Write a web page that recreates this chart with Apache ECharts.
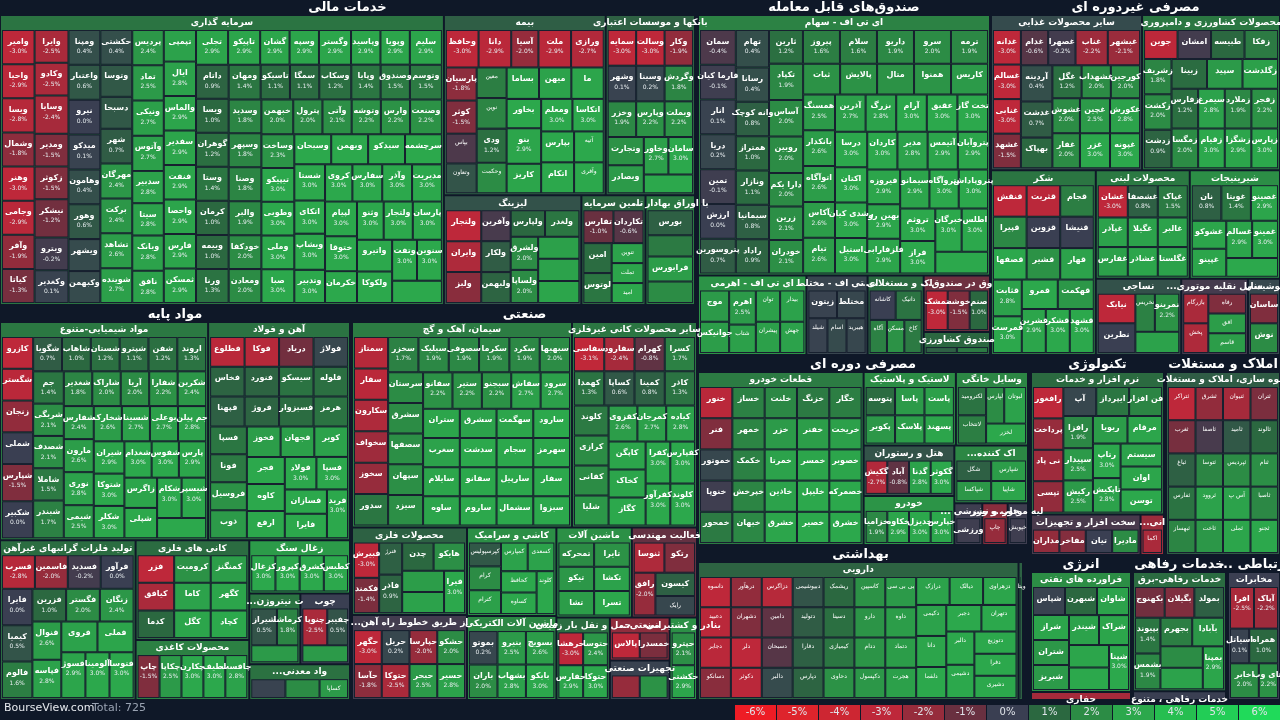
<!DOCTYPE html>
<html><head><meta charset="utf-8">
<script src="https://cdn.jsdelivr.net/npm/echarts@6/dist/echarts.min.js"></script>
<style>html,body{margin:0;padding:0;background:#0f1828;}#c{width:1280px;height:720px;}</style>
</head><body><div id="c"></div>
<script>
// ---------- DATA: [name, relative size, change %] ----------
const finInvest=[["وامیر",12,-3.0],["واحیا",12,-2.9],["ویسا",12,-2.8],["وشمال",12,-1.8],["وهنر",12,-3.0],["وجامی",12,-2.9],["وآفر",12,-1.9],["کیاتا",12,-1.3],["وایرا",12,-2.5],["وکادو",12,-2.5],["وسایا",14,-2.4],["ومدیر",12,-1.5],["زکوثر",12,-1.5],["نیشکر",14,-1.2],
["ویترو",12,-0.2],["وکغدیر",12,0.1],["ومپنا",12,0.4],["واعتبار",12,0.6],["نیرو",12,0.0],["میدکو",12,0.1],["وهامون",12,0.4],["وهور",12,0.6],["ویشهر",11,0.3],["وکبهمن",11,0.3],["حکشتی",12,0.4],["وتوسا",11,0.6],["دسبحا",11,0.6],["شهر",12,0.7],
["مهرگان",12,2.4],["برکت",12,2.4],["تشاهد",12,2.6],["شوینده",12,2.7],["پردیس",12,2.4],["تماد",12,2.5],["ونیکی",12,2.7],["وآتوس",12,2.7],["سدبیر",11,2.8],["سیتا",11,2.8],["وبانک",12,2.8],["نافق",11,2.8],["تپمپی",11,2.8],["ایال",12,2.8],["والماس",12,2.9],["سفدیر",12,2.9],["فنفت",12,2.9],["واحصا",12,2.9],["فارس",12,2.9],["ثمسکن",12,2.9],["تجلی",12,2.9],["تاپیکو",12,2.9],["گشان",11,2.9],["وسپه",11,2.9],["وگستر",12,2.9],["وپاسید",11,2.9],["وپویا",11,2.9],["سلیم",12,2.9],
["داتام",12,0.9],["ویسا۲",12,1.0],["گوهران",12,1.2],["وستا",12,1.4],["کرمان",12,1.0],["وبیمه",12,1.0],["ورنا",12,1.3],["ومهان",12,1.4],["تاسیکو",11,1.1],["سمگا",11,1.1],["وسکاب",12,1.2],["وپایا",11,1.4],["وصندوق",11,1.5],["وتوسم",12,1.5],["وسدید",12,1.8],["وسپهر",12,1.8],["وصنا",12,1.8],["والبر",12,1.9],["خودکفا",12,2.0],["ومعادن",12,2.0],["خبهمن",12,2.0],["پترول",11,2.0],["وآتی",11,2.1],["وتوشه",11,2.2],["وارس",11,2.2],["وصنعت",12,2.2],["وساخت",12,2.3],
["تیپیکو",12,3.0],["وطوبی",12,3.0],["وملی",12,3.0],["صبا",12,3.0],["وسبحان",12,3.0],["وبهمن",12,3.0],["سیدکو",12,3.0],["سرچشمه",12,3.0],["شستا",12,3.0],["اتکای",11,3.0],["وبشاپ",12,3.0],["وتدبیر",11,3.0],["کروی",11,3.0],["سفارس",12,3.0],["وآذر",12,3.0],["مدیریت",12,3.0],["لپیام",12,3.0],["ختوقا",12,3.0],["خکرمان",11,3.0],["وثنو",11,3.0],["ولتجار",12,3.0],["پارسان",12,3.0],["واتیرو",12,3.0],["ولکوکا",12,3.0],["وتفت",11,3.0],["سنوین",11,3.0],["وساپا",12,3.0]];
const finInsure=[["وحافظ",12,-3.0],["دانا",12,-2.9],["آسیا",10,-2.0],["ملت",12,-2.9],["ورازی",12,-2.7],["پارسیان",10,-1.8],["کوثر",10,-1.5],["بپاس",9,-0.4],["وتعاون",9,0.5],["معین",9,1.6],["نوین",9,1.8],["ودی",10,1.2],["وحکمت",9,2.0],["بساما",10,2.7],["میهن",10,2.8],["ما",10,2.9],["بخاور",10,3.0],["بنو",12,2.9],["کاریز",10,2.9],["ومعلم",10,3.0],["اتکاسا",10,3.0],["بپارس",10,3.0],["اتکام",10,3.0],["آتیه",9,3.0],["وآفری",9,3.0]];
const finBank=[["سمایه",11,-3.0],["وسالت",11,-3.0],["وکار",11,-1.9],["وشهر",11,0.1],["وسینا",11,0.2],["وگردش",11,1.8],["وخزر",11,1.9],["وپارس",11,2.2],["وبملت",11,2.2],["وتجارت",11,2.2],["وبصادر",11,2.5],["وخاور",10,2.7],["سامان",10,3.0],["دی",10,3.0]];
const finLeasing=[["ولتجار",12,-3.0],["وایران",12,-2.6],["ولبز",12,-1.7],["وآفرین",10,-0.3],["ولکار",10,0.7],["ولبهمن",10,0.9],["ولپارس",10,1.0],["ولغدر",10,1.4],["ولشرق",10,2.0],["ولساپا",10,2.0],["ولانا",10,2.7],["ولملت",10,2.8],["ولصنم",10,2.9]];
const finTamin=[["تفارس",14,-1.0],["تکاردان",14,-0.6],["امین",12,1.1],["لوتوس",12,1.4],["تنوین",9,2.8],["تملت",9,2.9],["امید",9,3.0]];
const finBourse=[["بورس",14,0.8],["کالا",12,1.5],["فرابورس",14,2.6],["انرژی",12,2.0]];

const fdSaham=[["سمان",12,-0.4],["فارما کیان",12,-0.1],["انار",12,0.1],["دریا",12,0.2],["تمین",12,-0.1],["ارزش",12,0.0],["پتروسورین",12,0.7],["تهام",12,0.4],["رسانا",11,0.4],["وانه کوچک",11,0.8],["همتراز",11,1.0],["ونازار",11,1.1],["سیمانیا",11,0.8],["راداد",11,0.9],["ثارین",11,1.2],
["پیروز",12,1.6],["سلام",12,1.6],["داریو",12,1.9],["سرو",12,2.0],["ترمه",12,1.9],["تکپاد",12,1.9],["آساس",12,2.0],["روبین",12,2.0],["دارا یکم",11,2.0],["زرین",11,2.1],["خودران",11,2.1],["ثبات",11,2.2],["پالایش",11,2.2],["متال",11,2.2],["همنوا",11,2.3],
["کاریس",11,2.5],["همسنگ",11,2.5],["بانکدار",11,2.6],["اتوآگاه",11,2.6],["آکاس",11,2.6],["تیام",11,2.6],["آذرین",11,2.7],["بزرگ",11,2.8],["آرام",11,3.0],["عقیق",11,3.0],["تخت گاز",11,3.0],["درسا",11,3.0],["اکتان",11,3.0],["رشدی کیان",11,3.0],["استیل",11,3.0],["کاردان",11,3.0],
["مدیر",11,2.8],["آتیمس",11,2.9],["پتروآبان",11,2.9],["فیروزه",11,2.9],["بهین رو",11,2.9],["فلزفارابی",11,2.9],["سیمانو",11,2.9],["پتروآگاه",11,3.0],["پتروپاداش",11,3.0],["تروثم",11,3.0],["فراز",11,3.0],["خبرگان",11,3.0],["اطلس",11,3.0],["هم‌افزا",11,3.0]];
const fdAhrom=[["موج",12,2.5],["جوانیکس",12,2.6],["اهرم",12,2.5],["شتاب",10,2.7],["توان",10,2.7],["بیدار",10,2.8],["پیشران",10,2.7],["جهش",10,2.8]];
const fdMokhtalet=[["زیتون",12,0.1],["مختلط",12,0.2],["شیلد",10,0.1],["اسام",10,0.3],["هیبرید",10,0.2]];
const fdMostaghelat=[["کاشانه",12,0.0],["دانیک",12,1.3],["آگاه",9,1.7],["مسکن",9,2.2],["کاخ",9,1.5]];
const fdDarSandogh=[["تمشک",12,-3.0],["خوشه",12,-1.5],["صنم",10,1.0]];
const fdKeshavarzi=[["سحرخیز",8,0.8],["نهال",8,1.5]];

const ncFood=[["غدانه",11,-3.0],["غسالم",11,-3.0],["غنابی",11,-3.0],["غشهد",11,-1.5],["غدام",11,-0.6],["غصهرا",11,-0.2],["غناب",13,-2.2],["غبشهر",13,-2.1],["آردینه",13,0.4],["غدشت",13,0.7],["بهپاک",11,1.0],["غگل",11,1.2],["غشهداب",11,2.0],["کورجین",11,2.0],["غشوش",11,2.0],["غفار",11,2.0],["غچین",12,2.5],["غکورش",12,2.8],["غزر",12,3.0],["غپونه",12,3.0]];
const ncAgri=[["جوین",11,-3.0],["امشان",11,-0.2],["طبیسه",11,1.0],["زفکا",11,1.5],["زشریف",11,1.8],["زکشت",11,2.0],["زدشت",12,0.9],["زبینا",12,1.1],["سپید",12,2.5],["زگلدشت",12,2.7],["زفارس",12,1.2],["زمگسا",12,2.0],["سیمرغ",12,2.8],["زقیام",12,3.0],["زملارد",12,1.9],["زفجر",12,2.2],["زشگزا",12,2.9],["زپارس",12,3.0]];
const ncSugar=[["قنقش",12,-3.0],["قثربت",12,-2.9],["قجام",12,1.6],["قپیرا",12,1.9],["قزوین",12,0.0],["قنیشا",12,0.0],["قصفها",12,3.0],["قشیر",12,2.2],["قهار",12,2.8],["قثابت",12,2.8],["قمرست",12,3.0],["قمرو",12,3.0],["قهکمت",12,2.4],["قشرین",12,2.9],["قشکر",12,3.0],["قشهد",12,3.0]];
const ncDairy=[["غشان",12,-3.0],["غشصفا",12,0.8],["غپاک",12,1.5],["غپآذر",11,2.8],["غفارس",11,2.7],["غگیلا",11,2.8],["غشاذر",11,2.9],["غالبر",11,2.8],["غگلستا",11,2.8]];
const ncSweets=[["نان",12,0.8],["غویتا",12,1.4],["غصینو",11,2.9],["غشوکو",11,2.9],["غپینو",11,2.9],["غسالم",11,2.9],["غمینو",11,3.0],["غگز",11,3.0]];
const ncTextile=[["نیابک",12,-3.0],["نطرین",12,0.0],["نخریس",8,1.7],["نمرینو",10,2.2],["نتوس",10,2.8]];
const ncVehicle=[["بازرگام",12,-2.5],["پخش",12,-2.6],["رفاه",12,-1.5],["افق",12,2.6],["قاسم",12,2.6]];
const ncDrink=[["ساسان",10,-1.5],["نوش",10,2.0]];

const mtChem=[["کازرو",12,-3.0],["شگستر",12,-2.9],["زنجان",12,-1.9],["شملی",12,0.0],["شپارس",14,-1.5],["شکبیر",14,0.0],["شگویا",12,0.7],["شاهاب",12,1.0],["شستان",12,1.2],["شپترو",12,1.1],["شفن",12,1.2],["اروند",12,1.3],["جم",12,1.4],["شربگی",12,2.1],["شصدف",12,2.1],["شاملا",12,1.5],["شبندر",14,1.7],["شغدیر",12,1.8],["شاراک",12,2.0],["آریا",12,2.0],["شفارا",12,2.2],
["شکربن",12,2.4],["شفارس",12,2.4],["مارون",12,2.6],["نوری",12,2.8],["شیمی",12,2.5],["شخارک",12,2.6],["شسینا",12,2.7],["بوعلی",12,2.7],["جم پیلن",12,2.8],["شیران",12,2.9],["شتوکا",12,3.0],["شکلر",12,3.0],["شغدام",12,3.0],["شفوس",12,3.0],["پارس",12,2.9],["زاگرس",12,2.9],["شپلی",12,3.0],["شکام",12,3.0],["شیسپر",12,3.0],["کلر",12,3.0]];
const mtSteel=[["فطلوع",12,-2.9],["فوکا",12,-2.8],["دریاد",12,-1.2],["فولاژ",12,0.2],["فخاس",12,0.9],["فنورد",12,0.9],["سیسکو",12,1.3],["فلوله",12,1.2],["فپهنا",12,0.8],["فروژ",12,0.9],["فسبزوار",12,1.1],["هرمز",12,1.3],["فسپا",12,1.4],["فونا",12,1.5],["فروسیل",12,2.2],["ذوب",12,2.5],["فخوز",12,2.6],["فجهان",12,2.7],["کویر",12,2.8],["فجر",12,3.0],["کاوه",12,3.0],["ارفع",12,3.0],["فولاد",12,3.0],["فسپا۲",12,3.0],["فسازان",12,3.0],["فایرا",12,3.0],["فرید",12,3.0]];
const mtNonFe=[["فسرب",12,-2.8],["فاسمین",12,-2.0],["فسدید",12,-0.2],["فرآور",12,0.0],["فایرا",12,0.0],["کیمیا",12,0.5],["فالوم",12,1.6],["فزرین",12,1.0],["فگستر",12,2.0],["زنگان",12,2.4],["فنوال",12,2.6],["فپاسه",12,2.8],["فروی",12,2.8],["فملی",12,2.9],["فسوژ",12,2.9],["آلومینا",12,3.0],["فتوسا",12,3.0]];
const mtMetalOre=[["فزر",12,-3.0],["کیافق",12,-2.5],["کدما",12,1.0],["کروميت",12,2.2],["کمنگنز",12,2.6],["کاما",12,2.8],["کگل",12,2.9],["کگهر",12,2.9],["کچاد",12,3.0]];
const mtPaper=[["چاپ",12,-1.5],["چکاپا",12,2.5],["چکارن",12,3.0],["لطیف",12,3.0],["چافست",12,2.8]];
const mtCoal=[["کزغال",12,3.0],["کپرور",12,3.0],["کشرق",12,3.0],["کطبس",12,3.0]];
const mtNitrogen=[["شیراز",12,0.5],["کرماشا",10,1.8],["شاروم",10,2.5]];
const mtWood=[["چنوپا",12,-2.5],["چفیبر",10,0.5],["چوب",10,2.5]];
const mtMineral=[["کالسار",12,0.1],["کتوسعه",12,2.0],["کساپا",10,2.5]];

const inCement=[["سمتاز",12,-2.8],["سفار",12,-2.9],["سکارون",12,-2.6],["سخواف",12,-2.2],["سخوز",12,-2.0],["سدور",12,1.4],["سخزر",12,1.7],["سیلیک",12,1.9],["سصوفی",12,1.9],["سکرما",12,1.9],["سکرد",12,1.9],["سبهبها",12,2.0],["سرستان",12,2.0],["سشرق",12,2.0],["سصفها",12,2.1],["سپهان",12,2.1],["سیزد",12,2.1],["سفانو",12,2.2],["ستیر",12,2.2],["سبجنو",12,2.2],["سفاش",12,2.7],["سرود",12,2.7],["ستران",12,2.9],["سغرب",12,2.8],["سایلام",12,2.9],["ساوه",12,2.9],["سشرق۲",12,2.8],["سهگمت",12,2.9],["سارود",12,3.0],["سدشت",12,3.0],["سفانو۲",12,3.0],["ساروم",12,3.0],["سجام",12,3.0],["سهرمز",12,3.0],["سارپیل",12,3.0],["سشمال",12,3.0],["سفار۲",12,3.0],["سبزوا",12,3.0]];
const inNonMetal=[["سفاسی",12,-3.1],["سفارود",12,-2.4],["کهرام",12,-0.8],["کسرا",12,1.7],["کهمدا",12,1.3],["کساپا",12,0.6],["کمینا",12,0.8],["کاذر",12,1.3],["کلوند",12,1.5],["کرازی",12,2.0],["کفانی",12,2.0],["شلیا",12,2.4],["کقزوی",12,2.6],["کمرجان",12,2.7],["کیاده",12,2.8],["کاپگن",12,2.9],["کخاک",12,2.9],["کگاز",12,3.0],["کفرا",12,3.0],["کفپارس",12,3.0],["کفرآور",12,3.0],["کلوند۲",12,3.0]];
const inMetalProd=[["فبیرش",12,-3.0],["فکمند",12,-1.4],["فنرژ",10,0.8],["فاذر",12,0.9],["چدن",12,1.0],["هایکو",12,2.1],["کیا",12,2.6],["فاما",12,2.8],["فیرا",12,3.0]];
const inMachine=[["تمحرکه",12,2.0],["تایرا",12,2.2],["تیکو",12,2.4],["تشا",12,2.6],["تکشا",12,2.8],["تسرا",12,3.0]];
const inEngineering=[["ثنوسا",12,-2.6],["رتکو",12,-1.5],["رافق",12,-2.0],["کیسون",12,0.8],["رایک",10,0.2]];
const inRail=[["حگهر",12,-3.0],["حآسا",12,-1.8],["حریل",12,0.2],["حتوکا",12,-2.5],["حپارسا",12,-2.0],["حشکو",12,2.0],["حبحر",12,2.5],["حسیر",12,2.8]];
const inTile=[["کپرسپولیس",12,0.6],["کرام",12,2.0],["کترام",12,2.7],["کمپارس",12,2.8],["کسعدی",12,2.8],["کحافظ",12,3.0],["کساوه",12,3.0],["کلوند",12,3.0]];
const inElectric=[["بموتو",12,0.2],["باران",12,2.0],["بنیرو",12,2.5],["بسویچ",12,2.6],["بشهاب",12,2.8],["بایکو",12,3.0]];
const inRoadTr=[["حرهشا",12,-3.0],["حتوسا",12,2.4],["حفارس",12,2.9],["حتوکا",12,3.0]];
const inIndEquip=[["تپکو",12,-2.0],["تاپکو",12,2.2]];
const inPorts=[["حپترو",12,2.1],["حکشتی",12,2.9]];
const inIndOther=[["پالاس",12,-3.0],["خمسدرا",12,-1.4]];

const cyParts=[["خنور",12,-2.9],["فنر",12,-1.5],["خموتور",12,0.2],["خنوپا",12,-0.1],["خمحور",12,1.5],["خساز",12,1.7],["خلنت",12,1.9],["خزنگ",12,1.5],["خگار",12,1.6],["خمهر",12,1.8],["خکمک",12,1.7],["خپرخش",12,1.8],["خبهان",12,1.9],["خزر",12,2.5],["خفنر",12,2.6],["خریخت",12,2.7],["خمرتا",12,2.8],["خاذین",12,2.8],["خشرق",12,2.9],["خمسر",12,2.9],["خصوبر",12,2.9],["خلیپل",12,3.0],["خصیر",12,3.0],["خصمرکه",12,3.0],["خشرق۲",12,3.0]];
const cyTyre=[["پتوسه",12,1.1],["پکویر",12,2.4],["پاسا",12,2.5],["پلاسک",12,2.6],["پاست",12,2.7],["پسهند",12,2.9]];
const cyHome=[["لکترومید",12,1.3],["لانتخاب",12,1.6],["لپارس",10,2.0],["لبوتان",12,2.8],["لخزر",12,3.0]];
const cyClean=[["شگل",12,0.8],["شپاکسا",12,2.4],["شپارس",12,2.6],["شاپیا",12,2.9]];
const cyHotel=[["گکیش",12,-2.7],["آباد",12,-0.8],["گدنا",12,2.8],["گکوثر",12,3.0]];
const cyAuto=[["خزامیا",12,1.9],["خکاوه",12,2.9],["خدیزل",12,3.0],["خپارس",12,3.0]];
const cyPrint=[["چاپ",12,-2.0]];
const cyMotor=[["خپویش",12,-0.1]];
const cySport=[["ورزشی",12,-0.1]];

const tcSoft=[["رافغور",12,-3.0],["پرداخت",12,-2.0],["نی پاد",12,-2.2],["تپسی",12,-1.9],["آپ",12,0.2],["ایپرداز",12,1.4],["فن افزار",12,1.8],["رافزا",12,1.9],["سپیدار",12,2.5],["رکیش",12,2.5],["ریویا",12,2.6],["مرقام",12,2.9],["رتاپ",12,3.0],["تاپکیش",12,2.8],["سیستم",12,2.8],["اوان",12,2.9],["توسن",12,3.0]];
const tcHard=[["مداران",12,-1.9],["مفاخر",12,-1.6],["تیان",12,0.0],["مادیرا",12,2.0]];
const tcTele=[["اکما",12,-2.5]];

const reBuild=[["ثتراکر",12,-3.0],["ثشرق",12,-1.9],["ثنیوان",12,-2.4],["ثتران",12,-1.4],["ثغرب",12,-1.3],["ثاصفا",12,-0.3],["ثامید",12,0.6],["ثالوند",12,1.0],["ثباغ",12,0.8],["ثفارس",12,1.3],["ثبهساز",12,1.8],["ثتوسا",12,1.8],["ثپردیس",12,2.0],["ثنام",12,2.1],["ثروود",12,2.8],["ثاخت",12,2.4],["آس پ",12,2.8],["ثاصبا",12,1.9],["ثملی",12,2.9],["ثجنو",12,3.0]];

const hlPharma=[["داسوه",12,-3.0],["دعبید",12,-2.9],["دجابر",12,-2.9],["دسانکو",12,-1.7],["درهآور",12,-1.9],["دشهران",12,-1.5],["دلر",12,-3.0],["دکوثر",12,-2.9],["دزاگرس",12,-2.8],["دامین",12,-0.8],["دسبحان",12,-0.6],["دالبر",12,0.3],["دبیوشیمی",12,0.5],["دتولید",12,0.7],["دفارا",12,0.8],["دپارس",12,0.9],["ریشمک",12,1.0],["دسینا",12,1.2],["کیمیازی",12,1.4],["دحاوی",12,2.2],["کاسپین",12,2.2],["دارو",12,2.3],["ددام",12,2.3],["دکپسول",12,2.4],["بی بی سی",12,2.5],["داوه",12,2.6],["دتماد",12,2.6],["هجرت",12,2.7],["درازک",12,2.8],["دیالک",12,2.9],["دزهراوی",12,2.9],["دکیمی",12,2.8],["دانا",12,2.9],["دلقما",12,3.0],["دجبر",12,3.0],["دتهران",12,3.0],["دالبر۲",12,3.0],["دشیمی",12,3.0],["دتوزیع",12,3.0],["دفرا",12,3.0],["دشیری",12,3.0]];
const hlOther=[["ویتا",3,1.0]];

const enRefine=[["شپاس",12,0.1],["شبهرن",12,1.0],["شاوان",12,2.8],["شراز",12,2.9],["شتران",12,2.4],["شبریز",12,2.5],["شیندر",12,2.8],["شراک",12,2.9],["شنفت",12,2.9],["شسپا",12,3.0],["شپنا",12,3.0]];
const enDrill=[["حفاری",5,-2.8]];

const rfPower=[["بکهنوج",12,-1.2],["بگیلان",12,-1.5],["بمولد",12,0.8],["بپیوند",12,1.4],["بشمس",12,1.9],["بجهرم",12,1.6],["بآبادا",12,2.4],["بدماوند",12,2.0],["برکرس",12,2.8],["بمپنا",12,2.9]];
const rfOther=[["خدمات متنوع",4,0.0]];
const cmTele=[["افرا",12,-2.5],["آپاک",12,-2.2],["اسیاتل",8,0.1],["همراه",12,1.0],["اخابر",12,2.0],["های وب",8,2.2]];

// ---------- STRUCTURE ----------
const sectors=[
 {name:"خدمات مالی",box:[0,0,695,305],ind:[["سرمایه گذاری",finInvest,1280],["بیمه",finInsure,290],["بانکها و موسسات اعتباری",finBank,160],["لیزینگ",finLeasing,150],["تامین سرمایه",finTamin,70],["... با اوراق بهادار",finBourse,54]]},
 {name:"صندوق‌های قابل معامله",box:[698,0,292,355],ind:[["ای تی اف - سهام",fdSaham,750],["ای تی اف - اهرمی",fdAhrom,85],["ای تی اف - مختلط",fdMokhtalet,48],["...اک و مستغلات",fdMostaghelat,44],["...وق در صندوق",fdDarSandogh,37],["صندوق کشاورزی",fdKeshavarzi,15]]},
 {name:"مصرفی غیردوره ای",box:[991,0,289,355],ind:[["سایر محصولات غذایی",ncFood,230],["محصولات کشاورزی و دامپروری",ncAgri,210],["شکر",ncSugar,190],["محصولات لبنی",ncDairy,100],["شیرینیجات",ncSweets,96],["نساجی",ncTextile,64],["...سایل نقلیه موتوری",ncVehicle,50],["نوشیدنی",ncDrink,24]]},
 {name:"مواد پایه",box:[0,307,350,393],ind:[["مواد شیمیایی-متنوع",mtChem,440],["آهن و فولاد",mtSteel,300],["تولید فلزات گرانبهای غیرآهن",mtNonFe,210],["کانی های فلزی",mtMetalOre,110],["محصولات کاغذی",mtPaper,66],["زغال سنگ",mtCoal,52],["...ت نیتروژن",mtNitrogen,35],["چوب",mtWood,34],["...واد معدنی",mtMineral,35]]},
 {name:"صنعتی",box:[352,307,345,393],ind:[["سیمان، آهک و گچ",inCement,440],["سایر محصولات کانی غیرفلزی",inNonMetal,250],["محصولات فلزی",inMetalProd,98],["...از طریق خطوط راه آهن",inRail,95],["کاشی و سرامیک",inTile,77],["ماشین آلات الکتریکی",inElectric,73],["ماشین آلات",inMachine,66],["فعالیت مهندسی",inEngineering,57],["حمل و نقل بار زمینی",inRoadTr,43],["...صنعتی",inIndOther,25],["تجهیزات صنعتی",inIndEquip,23],["بنادر و کشتیرانی",inPorts,22]]},
 {name:"مصرفی دوره ای",box:[698,357,330,188],ind:[["قطعات خودرو",cyParts,270],["لاستیک و پلاستیک",cyTyre,64],["وسایل خانگی",cyHome,50],["هتل و رستوران",cyHotel,43],["خودرو",cyAuto,42],["...اک کننده",cyClean,40],["... و ورزشی",cySport,11],["چاپ و نشر",cyPrint,10],["...لیه موتور",cyMotor,8]]},
 {name:"تکنولوژی",box:[1031,357,133,198],ind:[["نرم افزار و خدمات",tcSoft,180],["سخت افزار و تجهیزات",tcHard,42],["...انی",tcTele,9]]},
 {name:"املاک و مستغلات",box:[1166,357,114,198],ind:[["انبوه سازی، املاک و مستغلات",reBuild,200]]},
 {name:"بهداشتی",box:[698,547,325,153],ind:[["دارویی",hlPharma,430],["",hlOther,6]]},
 {name:"انرژی",box:[1031,557,100,143],ind:[["فراورده های نفتی",enRefine,120],["حفاری",enDrill,8]]},
 {name:"خدمات رفاهی",box:[1133,557,93,143],ind:[["خدمات رفاهی-برق",rfPower,110],["خدمات رفاهی ، متنوع",rfOther,8]]},
 {name:"... ارتباطی",box:[1228,557,52,143],ind:[["مخابرات",cmTele,120]]}
];
const legendTicks=[-6,-5,-4,-3,-2,-1,0,1,2,3,4,5,6];

// ---------- COLOURS ----------
const BG="#0f1828";
const stops=[[-6,[238,28,37]],[-5,[222,36,44]],[-4,[205,38,50]],[-3,[190,40,58]],[-2,[150,44,60]],[-1,[105,48,64]],[0,[58,63,82]],[1,[43,104,64]],[2,[44,140,69]],[3,[44,168,76]],[4,[38,190,80]],[5,[34,205,86]],[6,[32,218,90]]];
function col(v){v=Math.max(-6,Math.min(6,v));for(let i=0;i<stops.length-1;i++){const a=stops[i],b=stops[i+1];if(v<=b[0]){const t=(v-a[0])/(b[0]-a[0]);const c=a[1].map((x,k)=>Math.round(x+(b[1][k]-x)*t));return `rgb(${c[0]},${c[1]},${c[2]})`;}}return "#2d5";}

const chart=echarts.init(document.getElementById('c'));
const FONT="DejaVu Sans";
const series=sectors.map(s=>{
  const inds=s.ind.map(([nm,arr,tot])=>{
    const sum=arr.reduce((a,x)=>a+x[1],0);
    const avg=arr.reduce((a,x)=>a+x[1]*x[2],0)/sum;
    const hc=col(avg*0.85);
    return {name:nm,itemStyle:{color:hc,borderColor:hc},
      children:arr.map(([n,w,c])=>({name:n.replace(/[۲]$/,''),value:w*tot/sum,chg:c,big:w*tot/sum,itemStyle:{color:col(c)}}))};
  });
  const [l,t,w,h]=s.box;
  return {type:'treemap',left:l,top:t,width:w,height:h,roam:false,nodeClick:false,sort:false,
    breadcrumb:{show:false},animation:false,squareRatio:1,
    data:[{name:s.name,children:inds}],
    levels:[
      {itemStyle:{borderWidth:0,gapWidth:0,color:BG,borderColor:BG}},
      {itemStyle:{borderWidth:1,gapWidth:2,color:BG,borderColor:BG},
       upperLabel:{show:true,height:16,position:'inside',color:'#fff',fontSize:13,fontWeight:'bold',fontFamily:FONT,align:'center',verticalAlign:'middle',overflow:'none'}},
      {itemStyle:{borderWidth:1,gapWidth:0},
       upperLabel:{show:true,height:14,position:'inside',color:'#fff',fontSize:9,fontWeight:'bold',fontFamily:FONT,align:'center',verticalAlign:'middle',overflow:'none'}},
      {itemStyle:{borderWidth:1,borderColor:'#17202f',gapWidth:0},
       label:{show:true,position:'inside',align:'center',verticalAlign:'middle',overflow:'none',
        formatter:p=>{const d=p.data;const pc=d.chg.toFixed(1)+'%';return d.big>=10.5?`{n|${p.name}}\n{p|${pc}}`:`{s|${p.name}}`;},
        rich:{n:{fontSize:8,fontWeight:'bold',color:'#fff',fontFamily:FONT,lineHeight:11,align:'center'},p:{fontSize:6,color:'#e8eef0',fontFamily:FONT,lineHeight:9,align:'center'},s:{fontSize:6,color:'#fff',fontFamily:FONT,align:'center'}}}}
    ]};
});

const graphics=[
 {type:'text',left:4,top:703,style:{text:'BourseView.com',fill:'#e6e9ee',font:'11px '+FONT}},
 {type:'text',left:92,top:703,style:{text:'Total: 725',fill:'#9aa3b2',font:'11px '+FONT}}
];
legendTicks.forEach((v,i)=>{
  graphics.push({type:'rect',shape:{x:735+i*42,y:705,width:41,height:15},style:{fill:col(v)}});
  graphics.push({type:'text',x:735+i*42+20.5,y:712.5,style:{text:v+'%',fill:'#e0e4ea',font:'10px '+FONT,align:'center',verticalAlign:'middle'}});
});
chart.setOption({backgroundColor:BG,series,graphic:graphics});
</script></body></html>
